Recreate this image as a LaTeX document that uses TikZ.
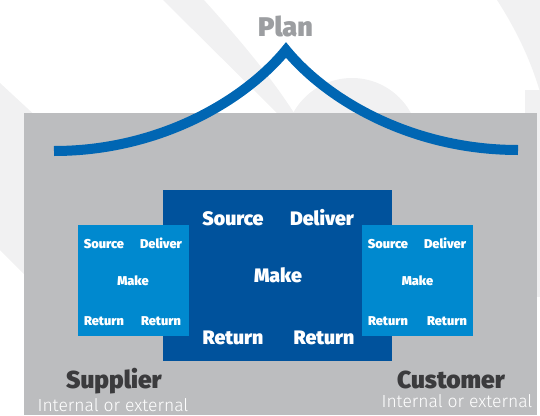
\documentclass[tikz,border=0pt]{standalone}
\usepackage{fontspec}
\setmainfont{Fira Sans}
\IfFontExistsTF{Fira Sans Black}{\newfontfamily\heavyfont{Fira Sans Black}}{\newfontfamily\heavyfont{Fira Sans}[UprightFont={* Bold}]}
\IfFontExistsTF{Fira Sans Light}{\newfontfamily\lightfont{Fira Sans Light}}{\newfontfamily\lightfont{Fira Sans}}
\definecolor{wmgray}{HTML}{F1F1F2}
\definecolor{panelgray}{HTML}{BCBDBF}
\definecolor{coreblue}{HTML}{00529C}
\definecolor{sideblue}{HTML}{0089CF}
\definecolor{planblue}{HTML}{0066B3}
\definecolor{plangray}{HTML}{9C9EA1}
\definecolor{darktext}{HTML}{3B3B3D}
\tikzset{
  wm/.style={fill=wmgray},
  corebox/.style={fill=coreblue, inner sep=0pt, outer sep=0pt, minimum width=229pt, minimum height=171pt},
  sidebox/.style={fill=sideblue, inner sep=0pt, outer sep=0pt, minimum width=111pt, minimum height=111pt},
  bigword/.style={text=white, anchor=base, inner sep=0pt, font=\heavyfont\fontsize{19.5}{22}\selectfont},
  smallword/.style={text=white, anchor=base, inner sep=0pt, font=\heavyfont\fontsize{12.8}{14}\selectfont},
  plancurve/.style={draw=planblue, line width=10pt, line join=miter, miter limit=10},
  roletitle/.style={text=darktext, anchor=base, inner sep=0pt, font=\heavyfont\fontsize{24.5}{27}\selectfont},
  rolesub/.style={text=white, anchor=base, inner sep=0pt, font=\lightfont\fontsize{17.5}{20}\selectfont}
}
\begin{document}
\begin{tikzpicture}[x=1pt,y=-1pt]
\useasboundingbox (0,0) rectangle (540,415);
% faint background shapes
\fill[wm] (0,83) -- (40,120) -- (40,290) -- (0,250) -- cycle;
\fill[wm] (163,0) -- (204,0) .. controls (240,40) and (272,78) .. (296,116) -- (280,116) -- cycle;
\fill[wm] (352,145) circle (67);
\fill[wm] (497,0) .. controls (515,28) and (530,58) .. (540,92) -- (540,0) -- cycle;
\fill[wm] (525,90) rectangle (540,297);
% grey panel
\fill[panelgray] (24,113) rectangle (537,415);
% plan curve
\coordinate (pl) at (54,151);
\coordinate (pk) at (286,50);
\coordinate (pr) at (518,150);
\draw[plancurve] (pl) .. controls (160,151) and (245,100) .. (pk) .. controls (327,100) and (412,150) .. (pr);
\node[text=plangray, anchor=base, inner sep=0pt, font=\heavyfont\fontsize{27}{30}\selectfont] (plan) at (285.5,36) {Plan};
% boxes
\node[corebox] (core) at (277.5,275.5) {};
\node[sidebox] (sup) at (133.5,280.5) {};
\node[sidebox] (cus) at (417.5,280.5) {};
% core texts
\node[bigword] (cs) at (233,225) {Source};
\node[bigword] (cd) at (322,225) {Deliver};
\node[bigword] (cm) at (278,282) {Make};
\node[bigword] (cr1) at (233,344) {Return};
\node[bigword] (cr2) at (324,344) {Return};
% supplier texts
\node[smallword] (ss) at (104,248) {Source};
\node[smallword] (sd) at (161,248) {Deliver};
\node[smallword] (sm) at (133,285) {Make};
\node[smallword] (sr1) at (104,325) {Return};
\node[smallword] (sr2) at (161,325) {Return};
% customer texts
\node[smallword] (us) at (388,248) {Source};
\node[smallword] (ud) at (445,248) {Deliver};
\node[smallword] (um) at (417.5,285) {Make};
\node[smallword] (ur1) at (388,325) {Return};
\node[smallword] (ur2) at (447,325) {Return};
% labels
\node[roletitle] (supt) at (114,388) {Supplier};
\node[rolesub] (supi) at (113,411) {Internal or external};
\node[roletitle] (cust) at (451,388) {Customer};
\node[rolesub] (cusi) at (457,407.5) {Internal or external};
\end{tikzpicture}
\end{document}
